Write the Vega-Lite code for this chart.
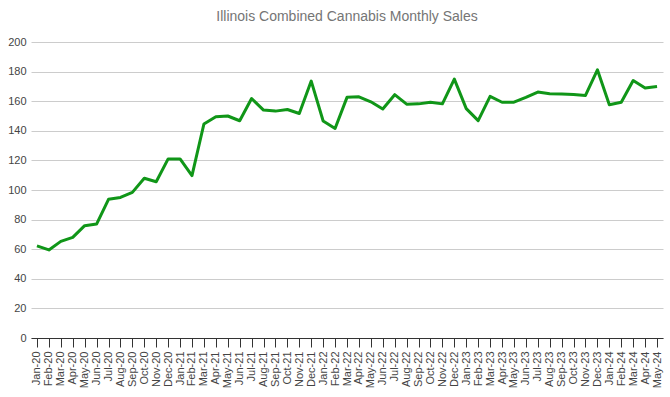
{
  "$schema": "https://vega.github.io/schema/vega-lite/v6.json",
  "autosize": "none",
  "width": 632,
  "height": 296,
  "padding": {"left": 31, "top": 42, "right": 7, "bottom": 59},
  "background": "white",
  "title": {
    "text": "Illinois Combined Cannabis Monthly Sales",
    "font": "Liberation Sans",
    "fontSize": 14,
    "fontWeight": "normal",
    "color": "#757575",
    "anchor": "middle",
    "offset": 12
  },
  "config": {
    "view": {"stroke": null},
    "font": "Liberation Sans"
  },
  "data": {
    "values": [
      {"month": "Jan-20", "sales": 62.2},
      {"month": "Feb-20", "sales": 59.5},
      {"month": "Mar-20", "sales": 65.3},
      {"month": "Apr-20", "sales": 68},
      {"month": "May-20", "sales": 75.9},
      {"month": "Jun-20", "sales": 77},
      {"month": "Jul-20", "sales": 93.7},
      {"month": "Aug-20", "sales": 95},
      {"month": "Sep-20", "sales": 98.4},
      {"month": "Oct-20", "sales": 107.9},
      {"month": "Nov-20", "sales": 105.6},
      {"month": "Dec-20", "sales": 121},
      {"month": "Jan-21", "sales": 121},
      {"month": "Feb-21", "sales": 109.7},
      {"month": "Mar-21", "sales": 144.6},
      {"month": "Apr-21", "sales": 149.5},
      {"month": "May-21", "sales": 150},
      {"month": "Jun-21", "sales": 146.8},
      {"month": "Jul-21", "sales": 161.8},
      {"month": "Aug-21", "sales": 154},
      {"month": "Sep-21", "sales": 153.3},
      {"month": "Oct-21", "sales": 154.4},
      {"month": "Nov-21", "sales": 151.7},
      {"month": "Dec-21", "sales": 173.6},
      {"month": "Jan-22", "sales": 146.6},
      {"month": "Feb-22", "sales": 141.6},
      {"month": "Mar-22", "sales": 162.6},
      {"month": "Apr-22", "sales": 163},
      {"month": "May-22", "sales": 159.6},
      {"month": "Jun-22", "sales": 154.7},
      {"month": "Jul-22", "sales": 164.4},
      {"month": "Aug-22", "sales": 158},
      {"month": "Sep-22", "sales": 158.2},
      {"month": "Oct-22", "sales": 159.3},
      {"month": "Nov-22", "sales": 158.2},
      {"month": "Dec-22", "sales": 174.9},
      {"month": "Jan-23", "sales": 155},
      {"month": "Feb-23", "sales": 146.9},
      {"month": "Mar-23", "sales": 163.3},
      {"month": "Apr-23", "sales": 159.3},
      {"month": "May-23", "sales": 159.3},
      {"month": "Jun-23", "sales": 162.6},
      {"month": "Jul-23", "sales": 166.2},
      {"month": "Aug-23", "sales": 165},
      {"month": "Sep-23", "sales": 164.8},
      {"month": "Oct-23", "sales": 164.6},
      {"month": "Nov-23", "sales": 163.9},
      {"month": "Dec-23", "sales": 181.2},
      {"month": "Jan-24", "sales": 157.6},
      {"month": "Feb-24", "sales": 159.3},
      {"month": "Mar-24", "sales": 174},
      {"month": "Apr-24", "sales": 168.9},
      {"month": "May-24", "sales": 170}
    ]
  },
  "mark": {"type": "line", "color": "#109618", "strokeWidth": 3, "strokeJoin": "round"},
  "encoding": {
    "x": {
      "field": "month",
      "type": "ordinal",
      "sort": null,
      "scale": {"type": "point", "padding": 0.5},
      "axis": {
        "title": null,
        "labelAngle": -90,
        "labelFontSize": 11,
        "labelColor": "#444444",
        "labelPadding": 4,
        "tickColor": "#333333",
        "tickSize": 9,
        "domainColor": "#333333",
        "grid": false
      }
    },
    "y": {
      "field": "sales",
      "type": "quantitative",
      "scale": {"domain": [0, 200], "nice": false},
      "axis": {
        "title": null,
        "values": [0, 20, 40, 60, 80, 100, 120, 140, 160, 180, 200],
        "labelFontSize": 11,
        "labelColor": "#444444",
        "labelPadding": 5,
        "ticks": false,
        "domain": false,
        "gridColor": "#cccccc"
      }
    }
  }
}
